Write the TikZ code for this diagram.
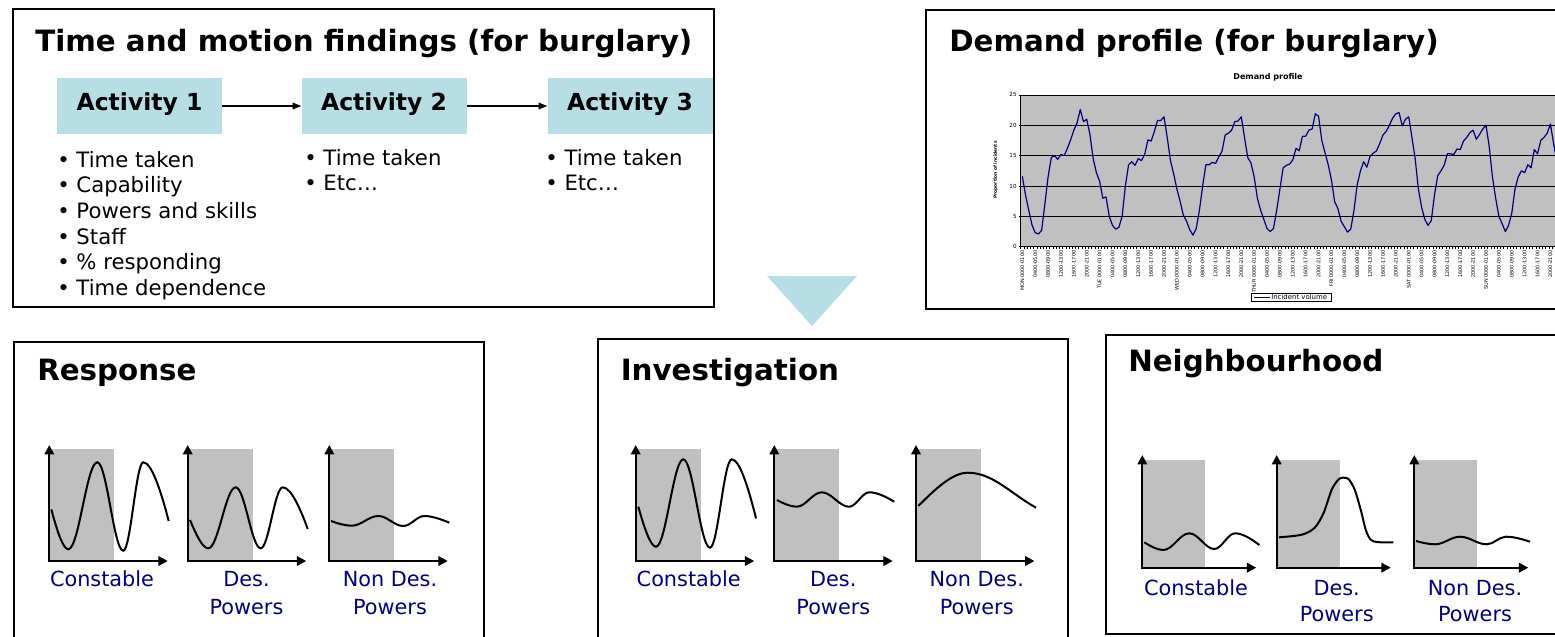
\documentclass[tikz,border=0pt]{standalone}
\usepackage{fontspec}
\setmainfont{DejaVu Sans}
\usetikzlibrary{arrows.meta}

\definecolor{actfill}{RGB}{183,222,228}
\definecolor{labelnavy}{RGB}{0,0,128}
\definecolor{chartgray}{RGB}{192,192,192}

\tikzset{
  panel/.style={draw=black, line width=1.1pt},
  heading/.style={font=\fontsize{22}{26}\selectfont\bfseries, inner sep=0pt, anchor=base west},
  actbox/.style={fill=actfill, minimum width=123.75pt, minimum height=42pt, inner sep=0pt,
    font=\fontsize{17.6}{21}\selectfont\bfseries, text height=13pt, text depth=6pt},
  flow/.style={line width=1pt, -{Triangle[length=6.5pt,width=5pt]}},
  bulletitem/.style={font=\fontsize{15.9}{19}\selectfont, inner sep=0pt, anchor=base west},
  chartlabel/.style={font=\fontsize{15.6}{18}\selectfont, text=labelnavy, inner sep=0pt, anchor=base},
  miniaxis/.style={line width=1.7pt, line join=miter,
    {Triangle[length=7pt,width=7pt]}-{Triangle[length=7pt,width=7pt]}},
  minicurve/.style={line width=1.5pt},
  ticklabel/.style={font=\fontsize{3.7}{4.4}\selectfont, inner sep=0pt},
  dataline/.style={draw=labelnavy, line width=0.9pt, line join=round},
}

% small sketch chart: origin, shaded width, shaded height, x-axis length, y-axis length, curve
\newcommand\minichart[6]{%
  \begin{scope}[shift={#1}]
    \fill[chartgray] (0,-#3) rectangle (#2,0);
    \draw[miniaxis] (0,-#5) -- (0,0) -- (#4,0);
    \draw[minicurve] #6;
  \end{scope}}

\begin{document}
\begin{tikzpicture}[x=0.75pt, y=-0.75pt]
\useasboundingbox (0,0) rectangle (1555,636);
\clip (0,0) rectangle (1555,636);

% ---------- panels ----------
\draw[panel] (13,9) rectangle (714,307);
\draw[panel] (926,10) rectangle (1575,309);
\draw[panel] (14,342) rectangle (484,660);
\draw[panel] (598,339) rectangle (1068,660);
\draw[panel] (1106,335) rectangle (1575,634);

% ---------- time and motion ----------
\node[heading] (tm-title) at (35,51) {Time and motion findings (for burglary)};

\node[actbox] (act1) at (139.5,106) {Activity 1};
\node[actbox] (act2) at (384,106) {Activity 2};
\node[actbox] (act3) at (630,106) {Activity 3};
\draw[flow] (act1) -- (act2);
\draw[flow] (act2) -- (act3);

\foreach \t [count=\i from 0] in {Time taken, Capability, Powers and skills, Staff, \% responding, Time dependence}
  \node[bulletitem] (a1-item\i) at (57,167.3+25.6*\i) {• \t};
\foreach \t [count=\i from 0] in {Time taken, Etc…}
  \node[bulletitem] (a2-item\i) at (304,165+25.4*\i) {• \t};
\foreach \t [count=\i from 0] in {Time taken, Etc…}
  \node[bulletitem] (a3-item\i) at (545,165+25.4*\i) {• \t};

% ---------- downward pointer ----------
\fill[actfill] (767,276) -- (857,276) -- (812,326) -- cycle;

% ---------- demand profile ----------
\node[heading] (dp-title) at (949,51) {Demand profile (for burglary)};
\node[font=\fontsize{6}{7}\selectfont\bfseries, inner sep=0pt] (dp-charttitle) at (1268,77) {Demand profile};
\node[font=\fontsize{3.3}{4}\selectfont\bfseries, rotate=90, inner sep=0pt] (dp-ylabel) at (995.7,170) {Proportion of incidents};

\begin{scope}[shift={(1020.7,246.7)}]
\begin{scope}[x=2.415pt, y=4.5525pt]
  \fill[chartgray] (0,0) rectangle (170,25);
  \foreach \v in {5,10,...,25} \draw[line width=0.6pt] (0,\v) -- (170,\v);
  \foreach \i in {0,...,168} \draw[line width=0.35pt] (\i,0) -- (\i,-0.4);
  \foreach \v in {0,5,...,25} {
    \draw[line width=0.5pt] (0,\v) -- (-0.6,\v);
    \node[ticklabel, anchor=east, font=\fontsize{4.2}{5}\selectfont] (yl\v) at (-1.2,\v) {\v};
  }
  \draw[line width=0.8pt] (0,25) -- (0,0) -- (170,0);
  \foreach \d/\dn in {0/MON,1/TUE,2/WED,3/THUR,4/FRI,5/SAT,6/SUN}{
    \foreach \h/\t in {0/{\dn\ 0000-0100},4/0400-0500,8/0800-0900,12/1200-1300,16/1600-1700,20/2000-2100}{
      \node[ticklabel, rotate=90, anchor=east] (xl-\d-\h) at ({24*\d+\h+0.5},-0.6) {\t};
    }
  }
  \draw[dataline] (0.5,11.6) \foreach \v [count=\i from 1] in {
    8.5,6,3.6,2.3,2.1,2.7,7,11.5,14.7,15,14.4,15.2,15,16.2,17.6,19.2,20.4,22.6,20.6,21,18.5,14.5,12.2,
    10.8,8,8.2,5,3.5,2.9,3.2,5,10,13.5,14,13.4,14.5,14.2,15.2,17.6,17.4,19,20.8,20.8,21.4,18,14.2,12,
    9.5,7.5,5.2,4.2,2.8,1.9,3,6,10,13.5,13.5,13.9,13.7,14.8,15.7,18.4,18.7,19.2,20.6,20.7,21.4,18,14.7,13.8,
    11.5,8,6,4.5,3,2.5,3,6,9.5,13,13.4,13.6,14.3,16.2,15.8,18.2,18.2,19.2,19.4,21.9,21.5,17.5,15.5,13.5,
    11,7.4,6.3,4.2,3.3,2.4,2.9,6,10.2,12.5,14,13.1,14.9,15.4,15.8,17,18.4,19,20,21.2,21.9,22.1,19.9,21,
    21.4,18,14.5,9.5,6.5,4.5,3.5,4.3,8.5,11.7,12.5,13.4,15.3,15.3,15.2,16.1,16,17.4,18,18.8,19.2,17.7,18.5,19.4,
    20,16.5,11.5,8,5,3.8,2.5,3.5,5.5,9.5,11.5,12.5,12.2,13.5,13,16,15.3,17.5,18,18.7,20.2,17,14,12}
    { -- (\i+0.5,\v) };
\end{scope}
\end{scope}

% legend
\node[draw=black, line width=0.6pt, minimum width=60pt, minimum height=5.8pt, inner sep=0pt] (legend) at (1291.7,297.2) {};
\coordinate (leg-a) at (1254,297.2);
\coordinate (leg-b) at (1270,297.2);
\draw[dataline, line width=0.8pt] (leg-a) -- (leg-b);
\node[ticklabel, anchor=west, font=\fontsize{5.2}{6}\selectfont] (legend-text) at (1271,297.4) {Incident volume};

% ---------- response ----------
\node[heading] (resp-title) at (37,380) {Response};
\minichart{(49.3,561)}{65}{112}{118.5}{116}{(2,-51.7) .. controls +(5.5,20.5) and +(-5.4,0) .. (19,-11.7) .. controls +(10.6,0) and +(-10.6,0) .. (48,-98.7) .. controls +(9.5,0) and +(-9.5,0) .. (74,-10.3) .. controls +(7.3,0) and +(-7.3,0) .. (94,-98.7) .. controls +(8.3,0) and +(-7.6,-29.4) .. (119.4,-40)}
\minichart{(187.7,561)}{65}{112}{118.5}{116}{(2.3,-41) .. controls +(6,14.5) and +(-5.8,0) .. (20.6,-12.7) .. controls +(10,0) and +(-10,0) .. (48,-73.7) .. controls +(9.1,0) and +(-9.1,0) .. (73,-12.7) .. controls +(8,0) and +(-8,0) .. (95,-73.7) .. controls +(8,0) and +(-7.5,-21) .. (120,-32)}
\minichart{(329.3,561)}{65}{112}{118.5}{116}{(1.7,-40) .. controls +(6.7,2.4) and +(-6.6,0) .. (22.4,-35.3) .. controls +(9.7,0) and +(-9.7,0) .. (49,-45) .. controls +(9.1,0) and +(-9.1,0) .. (74,-35) .. controls +(7.6,0) and +(-7.6,0) .. (95,-45) .. controls +(8,0) and +(-8,-3.3) .. (120,-38.3)}
\node[chartlabel] (resp-c) at (102,586.7) {Constable};
\node[chartlabel] (resp-d1) at (246.5,586.7) {Des.};
\node[chartlabel] (resp-d2) at (246.5,614.3) {Powers};
\node[chartlabel] (resp-n1) at (390,586.7) {Non Des.};
\node[chartlabel] (resp-n2) at (390,614.3) {Powers};

% ---------- investigation ----------
\node[heading] (inv-title) at (620.5,380) {Investigation};
\minichart{(635.7,561)}{65}{112}{118.5}{116}{(2.6,-54.3) .. controls +(5.8,20.5) and +(-5.6,0) .. (20.3,-14.3) .. controls +(9.9,0) and +(-9.9,0) .. (47.6,-101.7) .. controls +(9.7,0) and +(-9.7,0) .. (74.3,-13.3) .. controls +(7.9,0) and +(-7.9,0) .. (96,-101.7) .. controls +(8,0) and +(-7.3,-29.5) .. (120.3,-42.7)}
\minichart{(774.3,561)}{65}{112}{118.5}{116}{(2.7,-61) .. controls +(6.4,3.4) and +(-6.3,0) .. (22.4,-54.3) .. controls +(9.1,0) and +(-9.1,0) .. (47.4,-68.7) .. controls +(9.9,0) and +(-9.9,0) .. (74.7,-54.3) .. controls +(7.4,0) and +(-7.4,0) .. (95,-68.7) .. controls +(8,0) and +(-8,-4.7) .. (120,-59.3)}
\minichart{(916,561)}{65}{112}{118.5}{116}{(2.3,-55) .. controls +(15,-15) and +(-16,0) .. (51.7,-88.3) .. controls +(25,0) and +(-25,-14) .. (120,-53.3)}
\node[chartlabel] (inv-c) at (688.7,586.7) {Constable};
\node[chartlabel] (inv-d1) at (833.3,586.7) {Des.};
\node[chartlabel] (inv-d2) at (833.3,614.3) {Powers};
\node[chartlabel] (inv-n1) at (976.7,586.7) {Non Des.};
\node[chartlabel] (inv-n2) at (976.7,614.3) {Powers};

% ---------- neighbourhood ----------
\node[heading] (nb-title) at (1128,371.3) {Neighbourhood};
\minichart{(1142.3,567.7)}{63}{107.7}{114}{112.7}{(2,-25.4) .. controls +(6.2,3.9) and +(-6,0) .. (21,-17.7) .. controls +(9.5,0) and +(-9.5,0) .. (47,-34.4) .. controls +(9.1,0) and +(-9.1,0) .. (72,-18.7) .. controls +(7.5,0) and +(-7.5,0) .. (92.7,-34.4) .. controls +(8,0) and +(-7.8,-5.8) .. (117,-22.7)}
\minichart{(1276.7,567.7)}{63}{107.7}{114}{112.7}{plot[smooth, tension=0.5] coordinates {(2.3,-30.4) (25,-33) (38,-40) (47,-55) (55,-78) (62,-88.5) (67,-90) (72,-88.5) (78,-78) (84,-58) (89,-38) (94,-28) (101,-25.6) (116.6,-25.4)}}
\minichart{(1414.3,567.7)}{63}{107.7}{114}{112.7}{(1.7,-26.7) .. controls +(6.2,1.7) and +(-6,0) .. (20.7,-23.4) .. controls +(9.1,0) and +(-9.1,0) .. (45.7,-31) .. controls +(9.7,0) and +(-9.7,0) .. (72.4,-23.4) .. controls +(7,0) and +(-7,0) .. (91.7,-31) .. controls +(8,0) and +(-7.7,-2.5) .. (115.7,-26)}
\node[chartlabel] (nb-c) at (1196,595.7) {Constable};
\node[chartlabel] (nb-d1) at (1336.7,595.7) {Des.};
\node[chartlabel] (nb-d2) at (1336.7,621) {Powers};
\node[chartlabel] (nb-n1) at (1475,595.7) {Non Des.};
\node[chartlabel] (nb-n2) at (1475,621) {Powers};
\end{tikzpicture}
\end{document}
